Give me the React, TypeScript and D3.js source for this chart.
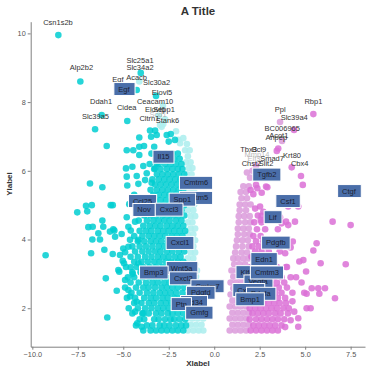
import { useEffect, useRef } from "react";
import * as d3 from "d3";

type Row = [number, number[]];
type Pt = [number, number];

// dense cloud, one row per -log10 p level: [y, [log2FC...]]
const darkCyanRows: Row[] = [
  [1.35, [-3.9, -3.5, -3.2, -2.9, -2.6, -2.3, -2.0, -1.7]],
  [1.5, [-4.3, -3.7, -3.4, -3.0, -2.75, -2.45, -2.1, -1.8, -1.55]],
  [1.68, [-4.1, -3.85, -3.3, -3.05, -2.7, -2.4, -2.2, -1.9, -1.6]],
  [1.85, [-4.5, -3.95, -3.6, -3.2, -2.9, -2.55, -2.3, -2.0, -1.7]],
  [2.0, [-4.7, -4.2, -3.8, -3.45, -3.1, -2.8, -2.5, -2.15, -1.85, -1.6]],
  [2.15, [-4.4, -4.0, -3.6, -3.3, -2.95, -2.65, -2.35, -2.05, -1.75]],
  [2.3, [-4.8, -4.35, -3.85, -3.5, -3.2, -2.85, -2.55, -2.2, -1.9, -1.6]],
  [2.45, [-4.55, -4.1, -3.7, -3.35, -3.0, -2.7, -2.4, -2.1, -1.75]],
  [2.6, [-4.9, -4.3, -3.9, -3.6, -3.25, -2.9, -2.6, -2.3, -2.0, -1.65]],
  [2.75, [-4.6, -4.15, -3.75, -3.4, -3.1, -2.75, -2.45, -2.15, -1.8]],
  [2.9, [-4.75, -4.4, -3.95, -3.55, -3.25, -2.95, -2.6, -2.3, -1.95, -1.65]],
  [3.05, [-4.5, -4.05, -3.7, -3.35, -3.0, -2.7, -2.4, -2.05, -1.75]],
  [3.2, [-4.85, -4.25, -3.9, -3.55, -3.2, -2.85, -2.55, -2.25, -1.9, -1.6]],
  [3.35, [-4.4, -4.0, -3.65, -3.3, -3.0, -2.65, -2.35, -2.0, -1.7]],
  [3.5, [-4.6, -4.2, -3.8, -3.45, -3.1, -2.8, -2.5, -2.15, -1.85]],
  [3.65, [-4.35, -3.95, -3.6, -3.25, -2.95, -2.6, -2.3, -1.95, -1.65]],
  [3.8, [-4.5, -4.1, -3.75, -3.4, -3.05, -2.75, -2.45, -2.1, -1.8]],
  [3.95, [-4.2, -3.85, -3.5, -3.2, -2.9, -2.55, -2.25, -1.9, -1.6]],
  [4.1, [-4.4, -3.95, -3.6, -3.3, -3.0, -2.7, -2.35, -2.05, -1.75]],
  [4.25, [-4.1, -3.75, -3.45, -3.1, -2.8, -2.5, -2.2, -1.9, -1.6]],
  [4.4, [-3.9, -3.55, -3.25, -2.95, -2.6, -2.3, -2.0, -1.7]],
  [4.55, [-4.15, -3.7, -3.35, -3.05, -2.75, -2.45, -2.1, -1.8]],
  [4.7, [-3.85, -3.5, -3.2, -2.85, -2.55, -2.25, -1.95, -1.65]],
  [4.85, [-3.65, -3.3, -3.0, -2.7, -2.4, -2.1, -1.8]],
  [5.0, [-3.95, -3.45, -3.15, -2.85, -2.55, -2.25, -1.95, -1.65]],
  [5.15, [-3.6, -3.25, -2.95, -2.65, -2.35, -2.05, -1.75]],
  [5.3, [-3.35, -3.05, -2.75, -2.45, -2.15, -1.85, -1.6]],
  [5.45, [-3.5, -3.15, -2.85, -2.55, -2.25, -1.95, -1.7]],
  [5.6, [-3.25, -2.95, -2.65, -2.35, -2.05, -1.75]],
  [5.75, [-3.4, -3.05, -2.75, -2.45, -2.15, -1.85]],
  [5.9, [-3.15, -2.85, -2.55, -2.25, -1.95, -1.65]],
  [6.05, [-3.3, -2.95, -2.6, -2.3, -2.0, -1.75]],
  [6.2, [-3.55, -3.05, -2.7, -2.4, -2.1, -1.8]],
  [6.35, [-3.2, -2.85, -2.5, -2.2, -1.9]],
  [6.5, [-3.45, -3.0, -2.65, -2.3, -2.0]],
];

const darkCyanExtra: Pt[] = [
  [-8.57, 9.95], [-7.36, 8.6], [-4.04, 8.85], [-4.26, 8.35], [-3.2, 8.18],
  [-6.19, 7.62], [-6.55, 7.21], [-5.91, 6.72], [-4.78, 7.45],
  [-4.12, 6.97], [-3.53, 7.17], [-3.25, 7.17], [-3.16, 7.04], [-3.47, 6.99],
  [-2.61, 7.04], [-2.39, 7.07], [-2.16, 6.9], [-4.81, 6.6], [-4.45, 6.6],
  [-4.12, 6.7], [-3.86, 6.72], [-4.12, 6.46], [-3.3, 6.7], [-2.5, 6.85],
  [-9.27, 3.54], [-7.53, 4.79], [-7.05, 4.98], [-6.98, 4.82], [-6.73, 5.0],
  [-6.83, 5.63], [-6.15, 5.52], [-6.92, 4.36], [-6.68, 4.37], [-6.37, 4.18],
  [-6.28, 4.0], [-6.1, 4.37], [-6.15, 4.55], [-6.7, 4.0], [-6.77, 3.6],
  [-6.04, 3.7], [-5.58, 3.58], [-5.69, 5.0], [-5.58, 5.0], [-5.55, 4.3],
  [-5.49, 4.26], [-5.96, 2.87], [-5.36, 2.51], [-5.88, 1.73], [-5.09, 4.16],
  [-5.0, 3.74], [-4.9, 3.63], [-5.27, 3.11], [-5.22, 3.06], [-5.03, 3.38],
  [-4.96, 3.31], [-4.9, 2.82], [-4.72, 4.37], [-4.63, 3.99], [-4.59, 4.26],
  [-4.81, 4.65], [-4.67, 5.03], [-4.35, 4.52], [-4.17, 3.99],
  [-4.81, 5.83], [-4.78, 5.57], [-4.26, 5.85], [-4.17, 5.62], [-3.8, 5.73],
  [-3.44, 5.65], [-3.71, 5.93], [-3.25, 6.07], [-3.16, 6.22], [-3.9, 6.14],
  [-4.5, 6.12], [-4.85, 6.07], [-4.17, 3.31], [-4.59, 3.19], [-4.48, 3.0],
  [-4.72, 2.53], [-4.63, 2.34], [-4.26, 2.19], [-4.35, 1.9], [-3.9, 1.85],
  [-4.23, 1.56], [-3.99, 1.46], [-4.72, 3.79], [-5.18, 3.55], [-5.45, 4.08],
  [-5.73, 4.23], [-4.4, 5.3], [-4.05, 5.05], [-3.85, 4.8],
];

const lightCyanRows: Row[] = [
  [1.35, [-1.45, -1.15, -0.85, -0.6]],
  [1.52, [-1.3, -1.0, -0.7]],
  [1.7, [-1.5, -1.2, -0.9, -0.6]],
  [1.87, [-1.35, -1.05, -0.75]],
  [2.05, [-1.5, -1.2, -0.9, -0.65]],
  [2.22, [-1.35, -1.05, -0.8]],
  [2.4, [-1.45, -1.15, -0.85]],
  [2.58, [-1.3, -1.0, -0.75]],
  [2.75, [-1.45, -1.15, -0.9]],
  [2.92, [-1.3, -1.0]],
  [3.1, [-1.45, -1.15, -0.95]],
  [3.28, [-1.3, -1.05]],
  [3.45, [-1.45, -1.15]],
  [3.62, [-1.3, -1.05]],
  [3.8, [-1.45, -1.15]],
  [3.98, [-1.3, -1.05]],
  [4.15, [-1.45, -1.15]],
  [4.32, [-1.3, -1.05]],
  [4.5, [-1.45, -1.2]],
  [4.68, [-1.3, -1.05]],
  [4.85, [-1.45, -1.15]],
  [5.02, [-1.3, -1.1]],
  [5.2, [-1.45, -1.2]],
  [5.38, [-1.35, -1.1]],
  [5.55, [-1.5, -1.2]],
  [5.72, [-1.35, -1.15]],
  [5.9, [-1.5, -1.25]],
  [6.08, [-1.4, -1.2]],
  [6.25, [-1.55, -1.3]],
  [6.42, [-1.45]],
  [6.6, [-1.6, -1.35]],
  [6.78, [-1.5]],
];

const lightCyanExtra: Pt[] = [
  [-4.12, 8.6], [-2.82, 7.89], [-2.98, 7.33], [-2.89, 7.28], [-2.8, 7.36],
  [-2.7, 7.5], [-3.05, 7.6], [-1.97, 6.9], [-1.88, 6.8], [-1.7, 6.95], [-2.1, 7.15],
];

const lightPinkRows: Row[] = [
  [1.35, [0.85, 1.15, 1.45, 1.75]],
  [1.52, [1.0, 1.3, 1.6, 1.9]],
  [1.7, [0.85, 1.15, 1.45, 1.75]],
  [1.87, [1.0, 1.3, 1.6, 1.9]],
  [2.05, [0.85, 1.15, 1.45, 1.75]],
  [2.22, [1.0, 1.3, 1.6, 1.9]],
  [2.4, [0.9, 1.2, 1.5, 1.8]],
  [2.58, [1.05, 1.35, 1.65]],
  [2.75, [0.9, 1.2, 1.5, 1.8]],
  [2.92, [1.05, 1.35, 1.65]],
  [3.1, [0.95, 1.25, 1.55, 1.85]],
  [3.28, [1.1, 1.4, 1.7]],
  [3.45, [1.05, 1.3, 1.6, 1.9]],
  [3.62, [1.15, 1.5, 1.8]],
  [3.8, [1.2, 1.55, 1.9]],
  [3.98, [1.25, 1.55, 1.85]],
  [4.15, [1.3, 1.65, 1.95]],
  [4.32, [1.3, 1.6, 1.9]],
  [4.5, [1.35, 1.7, 2.0]],
  [4.68, [1.35, 1.65, 1.95]],
  [4.85, [1.4, 1.75]],
  [5.02, [1.4, 1.7, 2.0]],
  [5.2, [1.5, 1.8]],
  [5.38, [1.45, 1.75]],
  [5.55, [1.6, 1.9]],
];

const lightPinkExtra: Pt[] = [
  [1.97, 5.8], [3.62, 7.42], [3.73, 6.87], [2.1, 6.0], [2.3, 6.15], [1.8, 5.95], [2.45, 5.9],
];

const magentaRows: Row[] = [
  [1.35, [2.0, 2.3, 2.6, 2.9, 3.2, 3.5]],
  [1.5, [2.15, 2.45, 2.75, 3.05, 3.35, 3.7]],
  [1.68, [1.95, 2.3, 2.6, 2.9, 3.2, 3.5, 3.85]],
  [1.85, [2.1, 2.4, 2.7, 3.0, 3.35, 3.65, 4.05]],
  [2.0, [1.95, 2.25, 2.55, 2.85, 3.15, 3.45, 3.8, 4.1]],
  [2.15, [2.1, 2.4, 2.7, 3.0, 3.3, 3.6, 3.95]],
  [2.3, [1.95, 2.25, 2.55, 2.85, 3.2, 3.5, 3.9]],
  [2.45, [2.1, 2.4, 2.7, 3.05, 3.35, 3.7, 4.3]],
  [2.6, [2.0, 2.3, 2.6, 2.9, 3.25, 3.55, 4.0]],
  [2.75, [2.15, 2.45, 2.8, 3.1, 3.45, 3.85]],
  [2.9, [2.0, 2.3, 2.65, 2.95, 3.3, 3.7, 4.2]],
  [3.05, [2.2, 2.5, 2.85, 3.2, 3.6]],
  [3.2, [2.0, 2.35, 2.7, 3.05, 3.45, 3.95]],
  [3.35, [2.2, 2.55, 2.9, 3.3]],
  [3.5, [2.05, 2.4, 2.75, 3.15]],
  [3.65, [2.25, 2.6, 3.0, 3.6]],
  [3.8, [2.1, 2.45, 2.85]],
  [3.95, [2.3, 2.7, 3.3]],
  [4.1, [2.15, 2.55]],
  [4.3, [2.35, 2.8, 3.5]],
  [4.5, [2.2, 2.6]],
  [4.7, [2.4, 3.0]],
  [4.9, [2.25]],
];

const magentaExtra: Pt[] = [
  [5.45, 7.65], [4.39, 7.19], [3.52, 6.65], [3.44, 6.58], [4.26, 6.1], [4.77, 5.85],
  [4.87, 5.59], [2.3, 5.59], [2.37, 5.49], [2.61, 5.36], [2.92, 5.52], [2.0, 5.44],
  [2.15, 5.32], [2.85, 5.54], [4.07, 4.96], [4.62, 4.96], [3.95, 4.52], [4.44, 4.52],
  [4.07, 4.42], [6.51, 4.52], [7.5, 4.42], [3.44, 4.57], [3.62, 4.65], [3.71, 4.47],
  [2.52, 4.96], [2.7, 4.81], [2.61, 4.69], [2.56, 4.57], [5.63, 3.89], [5.45, 3.68],
  [4.32, 3.94], [4.2, 3.77], [4.9, 3.4], [4.68, 3.36], [5.85, 3.31], [7.23, 3.28],
  [5.05, 3.07], [5.36, 2.58], [5.72, 2.58], [4.95, 2.45], [5.08, 2.42], [5.78, 2.42],
  [6.64, 2.29], [6.09, 2.58], [4.62, 1.71], [5.08, 2.0], [5.3, 2.0], [4.62, 1.46],
  [3.1, 3.85], [3.5, 4.0], [3.9, 3.6], [4.0, 3.2], [4.5, 2.9], [4.8, 2.75],
  [4.3, 2.2], [4.4, 1.9], [3.9, 1.45], [4.2, 1.65],
];

const xTicks = [-10, -7.5, -5, -2.5, 0, 2.5, 5, 7.5];
const yTicks = [2, 4, 6, 8, 10];

// free text labels: [gene, x, y, faded]
const textLabels: [string, number, number, boolean][] = [
  ["Csn1s2b", -8.59, 10.31, false],
  ["Alp2b2", -7.3, 9.0, false],
  ["Slc25a1", -4.08, 9.22, false],
  ["Slc34a2", -4.08, 9.0, false],
  ["Acacb", -4.27, 8.72, false],
  ["Egf", -5.29, 8.66, false],
  ["Slc30a2", -3.17, 8.56, false],
  ["Elovl5", -2.87, 8.27, false],
  ["Ceacam10", -3.25, 8.01, false],
  ["Ddah1", -6.22, 8.03, false],
  ["Cidea", -4.81, 7.84, false],
  ["Slc39a5", -6.53, 7.57, false],
  ["Scd1", -3.09, 7.65, true],
  ["Elovl6", -3.25, 7.78, false],
  ["Sepp1", -2.76, 7.78, false],
  ["Cltrn1", -3.56, 7.52, false],
  ["Stank6", -2.57, 7.46, false],
  ["Rbp1", 5.45, 8.03, false],
  ["Ppl", 3.63, 7.78, false],
  ["Slc39a4", 4.4, 7.55, false],
  ["BC006965", 3.74, 7.24, false],
  ["Acot1", 3.55, 7.04, false],
  ["Anpep", 3.41, 6.96, false],
  ["Mmp14", 2.35, 6.46, true],
  ["Elf3", 2.19, 6.36, true],
  ["Tbx3", 1.89, 6.63, false],
  ["Bcl9", 2.46, 6.63, false],
  ["Smad7", 3.18, 6.36, false],
  ["Krt80", 4.28, 6.45, false],
  ["Cbx4", 4.7, 6.22, false],
  ["Chst2", 2.05, 6.2, false],
  ["Slit2", 2.85, 6.2, false],
];

// boxed labels, drawn in order (later ones on top)
const boxLabels: [string, number, number][] = [
  ["Egf", -4.96, 8.38],
  ["Il15", -2.79, 6.41],
  ["Cmtm6", -1.0, 5.65],
  ["Cmtm5", -1.0, 5.21],
  ["Spp1", -1.75, 5.16],
  ["Ccl25", -3.94, 5.12],
  ["Nov", -3.86, 4.86],
  ["Cxcl3", -2.48, 4.87],
  ["Cxcl1", -1.88, 3.9],
  ["Wnt5a", -1.79, 3.17],
  ["Bmp3", -3.32, 3.04],
  ["Cxcl2", -1.7, 2.87],
  ["Cmtm7", -0.37, 2.64],
  ["Pdgfd", -0.74, 2.45],
  ["Cd34", -1.11, 2.18],
  ["Ptn", -1.81, 2.12],
  ["Gmfg", -0.82, 1.87],
  ["Tgfb2", 2.89, 5.89],
  ["Csf1", 4.06, 5.12],
  ["Ctgf", 7.41, 5.41],
  ["Lif", 3.21, 4.65],
  ["Pdgfb", 3.39, 3.91],
  ["Edn1", 2.74, 3.43],
  ["Klf4", 1.8, 3.05],
  ["Vegfa", 2.41, 2.78],
  ["Cmtm3", 2.9, 3.04],
  ["Cxcl12", 1.9, 2.53],
  ["Pdgfa", 2.56, 2.42],
  ["Bmp1", 1.97, 2.26],
];

const flat = (rows: Row[]): Pt[] => rows.flatMap(([yy, xs]) => xs.map((xx) => [xx, yy] as Pt));

export default function App() {
  const svgRef = useRef<SVGSVGElement>(null);

  useEffect(() => {
    if (!svgRef.current) return;
    const svg = d3.select(svgRef.current);
    svg.selectAll("*").remove();

    const x = d3.scaleLinear().domain([-10.09, 8.29]).range([30.7, 365]);
    const y = d3.scaleLinear().domain([0.88, 10.34]).range([346.7, 21.7]);

    const layers: [Pt[], string, number][] = [
      [flat(lightCyanRows).concat(lightCyanExtra), "#AFEEEE", 0.9],
      [flat(darkCyanRows).concat(darkCyanExtra), "#00CED1", 0.85],
      [flat(lightPinkRows).concat(lightPinkExtra), "#DDA0DD", 0.9],
      [flat(magentaRows).concat(magentaExtra), "#DA70D6", 0.85],
    ];
    layers.forEach(([pts, color, op]) => {
      svg.append("g")
        .selectAll("circle")
        .data(pts)
        .join("circle")
        .attr("cx", (d) => x(d[0]))
        .attr("cy", (d) => y(d[1]))
        .attr("r", 3.3)
        .attr("fill", color)
        .attr("fill-opacity", op);
    });

    // axes
    const xAxis = svg.append("g")
      .attr("transform", "translate(0,346.7)")
      .call(d3.axisBottom(x).tickValues(xTicks).tickFormat(d3.format(".1f")).tickSize(3).tickSizeOuter(0).tickPadding(2));
    const yAxis = svg.append("g")
      .attr("transform", "translate(30.7,0)")
      .call(d3.axisLeft(y).tickValues(yTicks).tickSize(3).tickSizeOuter(0).tickPadding(2));
    [xAxis, yAxis].forEach((a) => {
      a.select(".domain").attr("stroke", "#808080");
      a.selectAll(".tick line").attr("stroke", "#808080");
      a.selectAll(".tick text").attr("fill", "#555").style("font-size", "7.3px").style("font-family", "inherit");
    });

    // plain text labels
    svg.append("g")
      .selectAll("text")
      .data(textLabels)
      .join("text")
      .attr("x", (d) => x(d[1]))
      .attr("y", (d) => y(d[2]))
      .attr("text-anchor", "middle")
      .attr("dominant-baseline", "central")
      .style("font-size", "7.5px")
      .attr("fill", (d) => (d[3] ? "#999" : "#333"))
      .attr("fill-opacity", (d) => (d[3] ? 0.7 : 1))
      .text((d) => d[0]);

    // boxed labels
    const boxes = svg.append("g");
    boxLabels.forEach(([name, lx, ly]) => {
      const g = boxes.append("g");
      const rect = g.append("rect");
      const t = g.append("text")
        .attr("x", x(lx))
        .attr("y", y(ly))
        .attr("text-anchor", "middle")
        .attr("dominant-baseline", "central")
        .style("font-size", "7.5px")
        .attr("fill", "#1c2233")
        .text(name);
      const bb = (t.node() as SVGTextElement).getBBox();
      rect
        .attr("x", bb.x - 4.5)
        .attr("y", y(ly) - 6.5)
        .attr("width", bb.width + 9)
        .attr("height", 13)
        .attr("fill", "#4A6EA9")
        .attr("stroke", "#fff")
        .attr("stroke-width", 1);
    });

    svg.append("text")
      .attr("x", 198).attr("y", 15)
      .attr("text-anchor", "middle")
      .style("font-size", "11.5px").style("font-weight", "bold")
      .attr("fill", "#333")
      .text("A Title");

    svg.append("text")
      .attr("x", 198).attr("y", 366)
      .attr("text-anchor", "middle")
      .style("font-size", "8px").style("font-weight", "bold")
      .attr("fill", "#333")
      .text("Xlabel");

    svg.append("text")
      .attr("transform", "translate(12,184) rotate(-90)")
      .attr("text-anchor", "middle")
      .style("font-size", "8px").style("font-weight", "bold")
      .attr("fill", "#333")
      .text("Ylabel");
  }, []);

  return (
    <svg
      ref={svgRef}
      width={372}
      height={374}
      style={{ position: "absolute", left: 0, top: 0, background: "#fff", fontFamily: "'Liberation Sans', Arial, sans-serif" }}
    />
  );
}
